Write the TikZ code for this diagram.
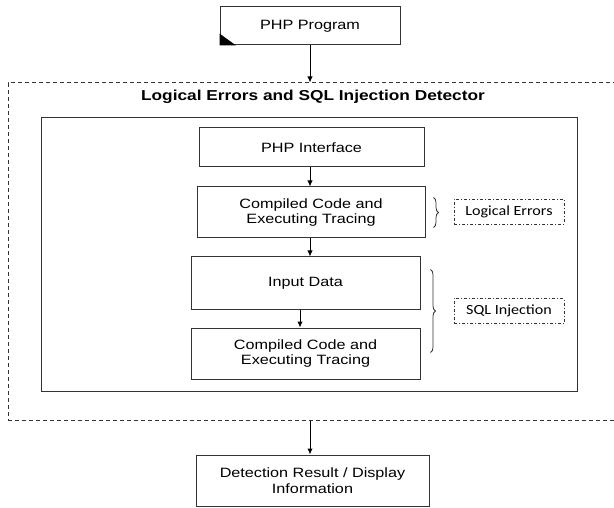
\documentclass[tikz,border=0pt]{standalone}
\usepackage{fontspec}
\setmainfont{Liberation Sans}[FakeStretch=1.2]
\newfontfamily\labelfont{Carlito}[FakeStretch=1.15]
\usetikzlibrary{arrows.meta,positioning,decorations.pathreplacing}
\tikzset{>={Latex[length=6pt,width=5.5pt]}}

\begin{document}
\begin{tikzpicture}[x=1pt,y=-1pt,
squarednode/.style={rectangle, draw=black!80, line width=1pt, align=center, inner sep=0pt, font=\fontsize{13.5}{15.5}\selectfont},
framenode/.style={rectangle, draw=black!80, line width=1pt, inner sep=0pt},
labelnode/.style={rectangle, draw=black!80, dash pattern=on 3pt off 2pt on 1pt off 2pt, line width=0.8pt, minimum width=110pt, minimum height=25pt, font=\labelfont\fontsize{14}{16}\selectfont},
bracenode/.style={decorate, decoration={brace, amplitude=5pt}, draw=black!80, line width=0.8pt},
]
\useasboundingbox (0,0) rectangle (614,508);

%Frames
\node[framenode, dash pattern=on 4pt off 3pt, minimum width=612pt, minimum height=337pt](Detector) at (314,251.5){};
\node[font=\bfseries\fontsize{14.4}{16}\selectfont](Title) at (313,97){Logical Errors and SQL Injection Detector};
\node[framenode, minimum width=536pt, minimum height=273pt](Inner) at (309,254.5){};

%Nodes
\node[squarednode, minimum width=180pt, minimum height=38pt](Program) at (310,26){PHP Program};
\node[squarednode, minimum width=225pt, minimum height=39pt](Interface) at (311.5,147.5){PHP Interface};
\node[squarednode, minimum width=228pt, minimum height=51pt](Compiled) at (311,212.5){Compiled Code and\\Executing Tracing};
\node[squarednode, minimum width=229pt, minimum height=52pt](Input) at (305.5,283){Input Data};
\node[squarednode, minimum width=229pt, minimum height=51pt](CompiledTwo) at (305.5,353.5){Compiled Code and\\Executing Tracing};
\node[squarednode, minimum width=233pt, minimum height=51pt](Result) at (312.5,480.5){Detection Result / Display\\Information};
\node[labelnode](Logical) at (509,211.5){Logical Errors};
\node[labelnode](Sql) at (509,311){SQL Injection};

%Corner mark
\fill[black] (Program.south west) -- ++(0,-12) -- (Program.south west -| 236,0) -- cycle;

%Lines
\draw[->, line width=1pt] (Program.south) -- (Program.south |- Detector.north);
\draw[->, line width=1pt] (Interface.south -| 310,0) -- (Compiled.north -| 310,0);
\draw[->, line width=1pt] (Compiled.south -| 310,0) -- (Input.north -| 310,0);
\draw[->, line width=1pt] (Input.south -| 300,0) -- (CompiledTwo.north -| 300,0);
\draw[->, line width=1pt] (Detector.south -| 310,0) -- (Result.north -| 310,0);

%Braces
\draw[bracenode] (Compiled.north east) ++(8,11) -- ++(0,30);
\draw[bracenode] (Input.north east) ++(10,13) -- ++(0,83);
\end{tikzpicture}
\end{document}
